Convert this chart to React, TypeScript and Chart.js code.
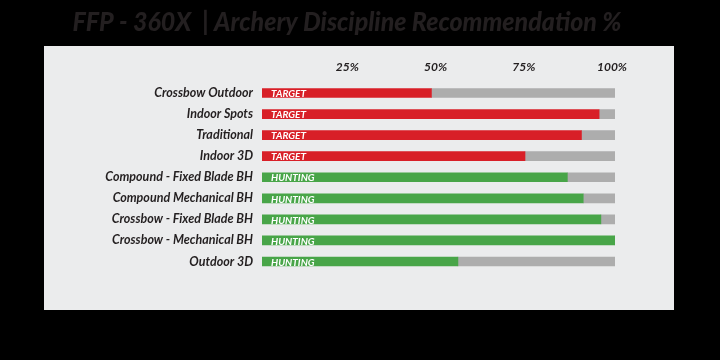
import React, { useEffect, useRef } from "react";
import { Chart, registerables } from "chart.js";

Chart.register(...registerables);

const categories = [
  "Crossbow Outdoor",
  "Indoor Spots",
  "Traditional",
  "Indoor 3D",
  "Compound - Fixed Blade BH",
  "Compound Mechanical BH",
  "Crossbow - Fixed Blade BH",
  "Crossbow - Mechanical BH",
  "Outdoor 3D",
];
const types = ["TARGET", "TARGET", "TARGET", "TARGET", "HUNTING", "HUNTING", "HUNTING", "HUNTING", "HUNTING"];
const scores = [48, 95.5, 90.5, 74.5, 86.5, 91, 96, 100, 55.5];
const tickValues = [25, 50, 75, 100];
const title = "FFP - 360X  | Archery Discipline Recommendation %";

const RED = "#d81f27";
const GREEN = "#48a548";
const GRAY = "#adadad";
const PANEL = "#ebeced";
const TEXT = "#231f20";

export default function App() {
  const ref = useRef<HTMLCanvasElement>(null);
  useEffect(() => {
    document.body.style.margin = "0";
    const ctx = ref.current!;
    const bgPlugin = {
      id: "bg",
      beforeDraw(chart: any) {
        const c = chart.ctx;
        c.save();
        c.fillStyle = "#000";
        c.fillRect(0, 0, chart.width, chart.height);
        c.fillStyle = PANEL;
        c.fillRect(44, 46, 630, 264);
        c.fillStyle = TEXT;
        c.font = "italic 900 26px Lato, sans-serif";
        c.textAlign = "center";
        c.textBaseline = "middle";
        const w = c.measureText(title).width;
        const sx = Math.min(1, 549 / w);
        c.translate(347, 23);
        c.scale(sx, 1);
        c.fillText(title, 0, 0);
        c.restore();
      },
      afterDatasetsDraw(chart: any) {
        const c = chart.ctx;
        const meta = chart.getDatasetMeta(0);
        c.save();
        c.fillStyle = "#fff";
        c.font = "italic bold 10px Lato, sans-serif";
        c.textAlign = "left";
        c.textBaseline = "middle";
        meta.data.forEach((bar: any, i: number) => {
          c.fillText(types[i], bar.base + 9, bar.y + 1);
        });
        c.restore();
      },
    };
    const chart = new Chart(ctx, {
      type: "bar",
      data: {
        labels: categories,
        datasets: [
          {
            data: scores,
            backgroundColor: types.map((t) => (t === "TARGET" ? RED : GREEN)),
            barThickness: 9,
          },
          {
            data: scores.map((v) => 100 - v),
            backgroundColor: GRAY,
            barThickness: 9,
          },
        ],
      },
      options: {
        indexAxis: "y",
        animation: false,
        responsive: false,
        events: [],
        layout: { padding: { top: 50, bottom: 88, right: 105, left: 0 } },
        plugins: { legend: { display: false }, tooltip: { enabled: false }, title: { display: false } },
        scales: {
          x: {
            position: "top",
            stacked: true,
            min: 0,
            max: 100,
            afterBuildTicks(scale: any) {
              scale.ticks = tickValues.map((v) => ({ value: v }));
            },
            afterFit(scale: any) {
              scale.height = 32.5;
            },
            grid: { display: false },
            border: { display: false },
            ticks: {
              padding: 0,
              labelOffset: -3,
              color: TEXT,
              font: { family: "Lato", size: 12, weight: "bold", style: "italic" },
              callback: (v: any) => v + "%",
            },
          },
          y: {
            stacked: true,
            afterFit(scale: any) {
              scale.width = 262;
            },
            grid: { display: false },
            border: { display: false },
            ticks: {
              padding: 1,
              color: TEXT,
              font: { family: "Lato", size: 12.5, weight: "bold", style: "italic" },
            },
          },
        },
      },
      plugins: [bgPlugin],
    } as any);
    return () => chart.destroy();
  }, []);
  return (
    <div style={{ width: 720, height: 360 }}>
      <canvas ref={ref} width={720} height={360} style={{ display: "block" }} />
    </div>
  );
}
